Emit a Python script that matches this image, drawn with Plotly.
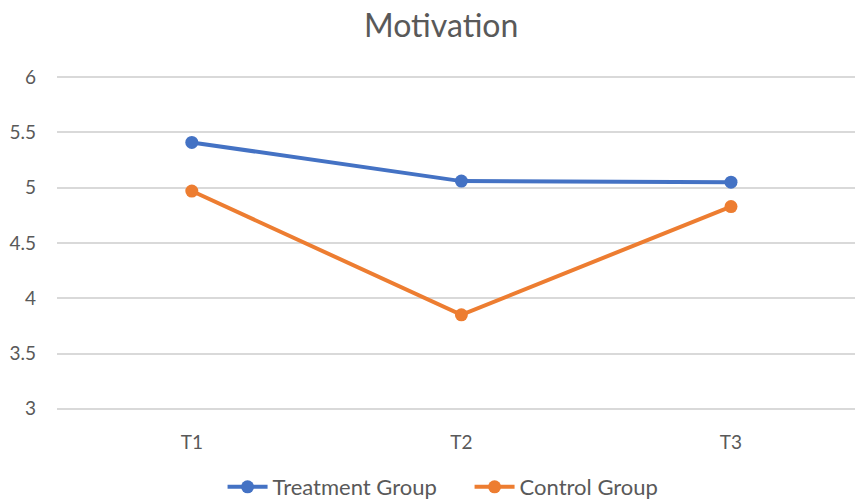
import plotly.graph_objects as go

# Motivation scores at three time points
time_points = ["T1", "T2", "T3"]
treatment_scores = [5.41, 5.06, 5.05]
control_scores = [4.97, 3.85, 4.83]
y_ticks = [3, 3.5, 4, 4.5, 5, 5.5, 6]
y_tick_labels = ["3", "3.5", "4", "4.5", "5", "5.5", "6"]

FONT = "Lato, 'Open Sans', sans-serif"
TEXT = "#595959"

fig = go.Figure()
fig.add_trace(go.Scatter(
    x=time_points, y=treatment_scores, name="Treatment Group",
    mode="lines+markers",
    line=dict(color="#4472C4", width=4),
    marker=dict(color="#4472C4", size=13),
))
fig.add_trace(go.Scatter(
    x=time_points, y=control_scores, name="Control Group",
    mode="lines+markers",
    line=dict(color="#ED7D31", width=4),
    marker=dict(color="#ED7D31", size=13),
))

fig.update_layout(
    width=855, height=499,
    margin=dict(l=57, r=0, t=75, b=88, autoexpand=False),
    paper_bgcolor="white", plot_bgcolor="white",
    font=dict(family=FONT, color=TEXT, size=19),
    title=dict(text="Motivation", x=0.516, xanchor="center",
               y=0.948, yanchor="middle",
               font=dict(family=FONT, size=32, color=TEXT)),
    legend=dict(orientation="h", x=0.517, xanchor="center",
                yref="container", y=0.024, yanchor="middle",
                font=dict(family=FONT, size=22, color=TEXT),
                itemwidth=40, entrywidth=192, tracegroupgap=0),
    showlegend=True,
)
fig.update_xaxes(
    type="category", range=[-0.5, 2.46],
    showgrid=False, zeroline=False, showline=False,
    ticks="", ticklabelstandoff=18,
    tickfont=dict(family=FONT, size=19, color=TEXT),
)
fig.update_yaxes(
    range=[2.98, 6.02], tickvals=y_ticks, ticktext=y_tick_labels,
    showgrid=True, gridcolor="#D9D9D9", gridwidth=1.5,
    zeroline=False, showline=False, ticks="",
    ticklabelstandoff=20,
    tickfont=dict(family=FONT, size=19, color=TEXT),
)

fig.write_html("out.html")
